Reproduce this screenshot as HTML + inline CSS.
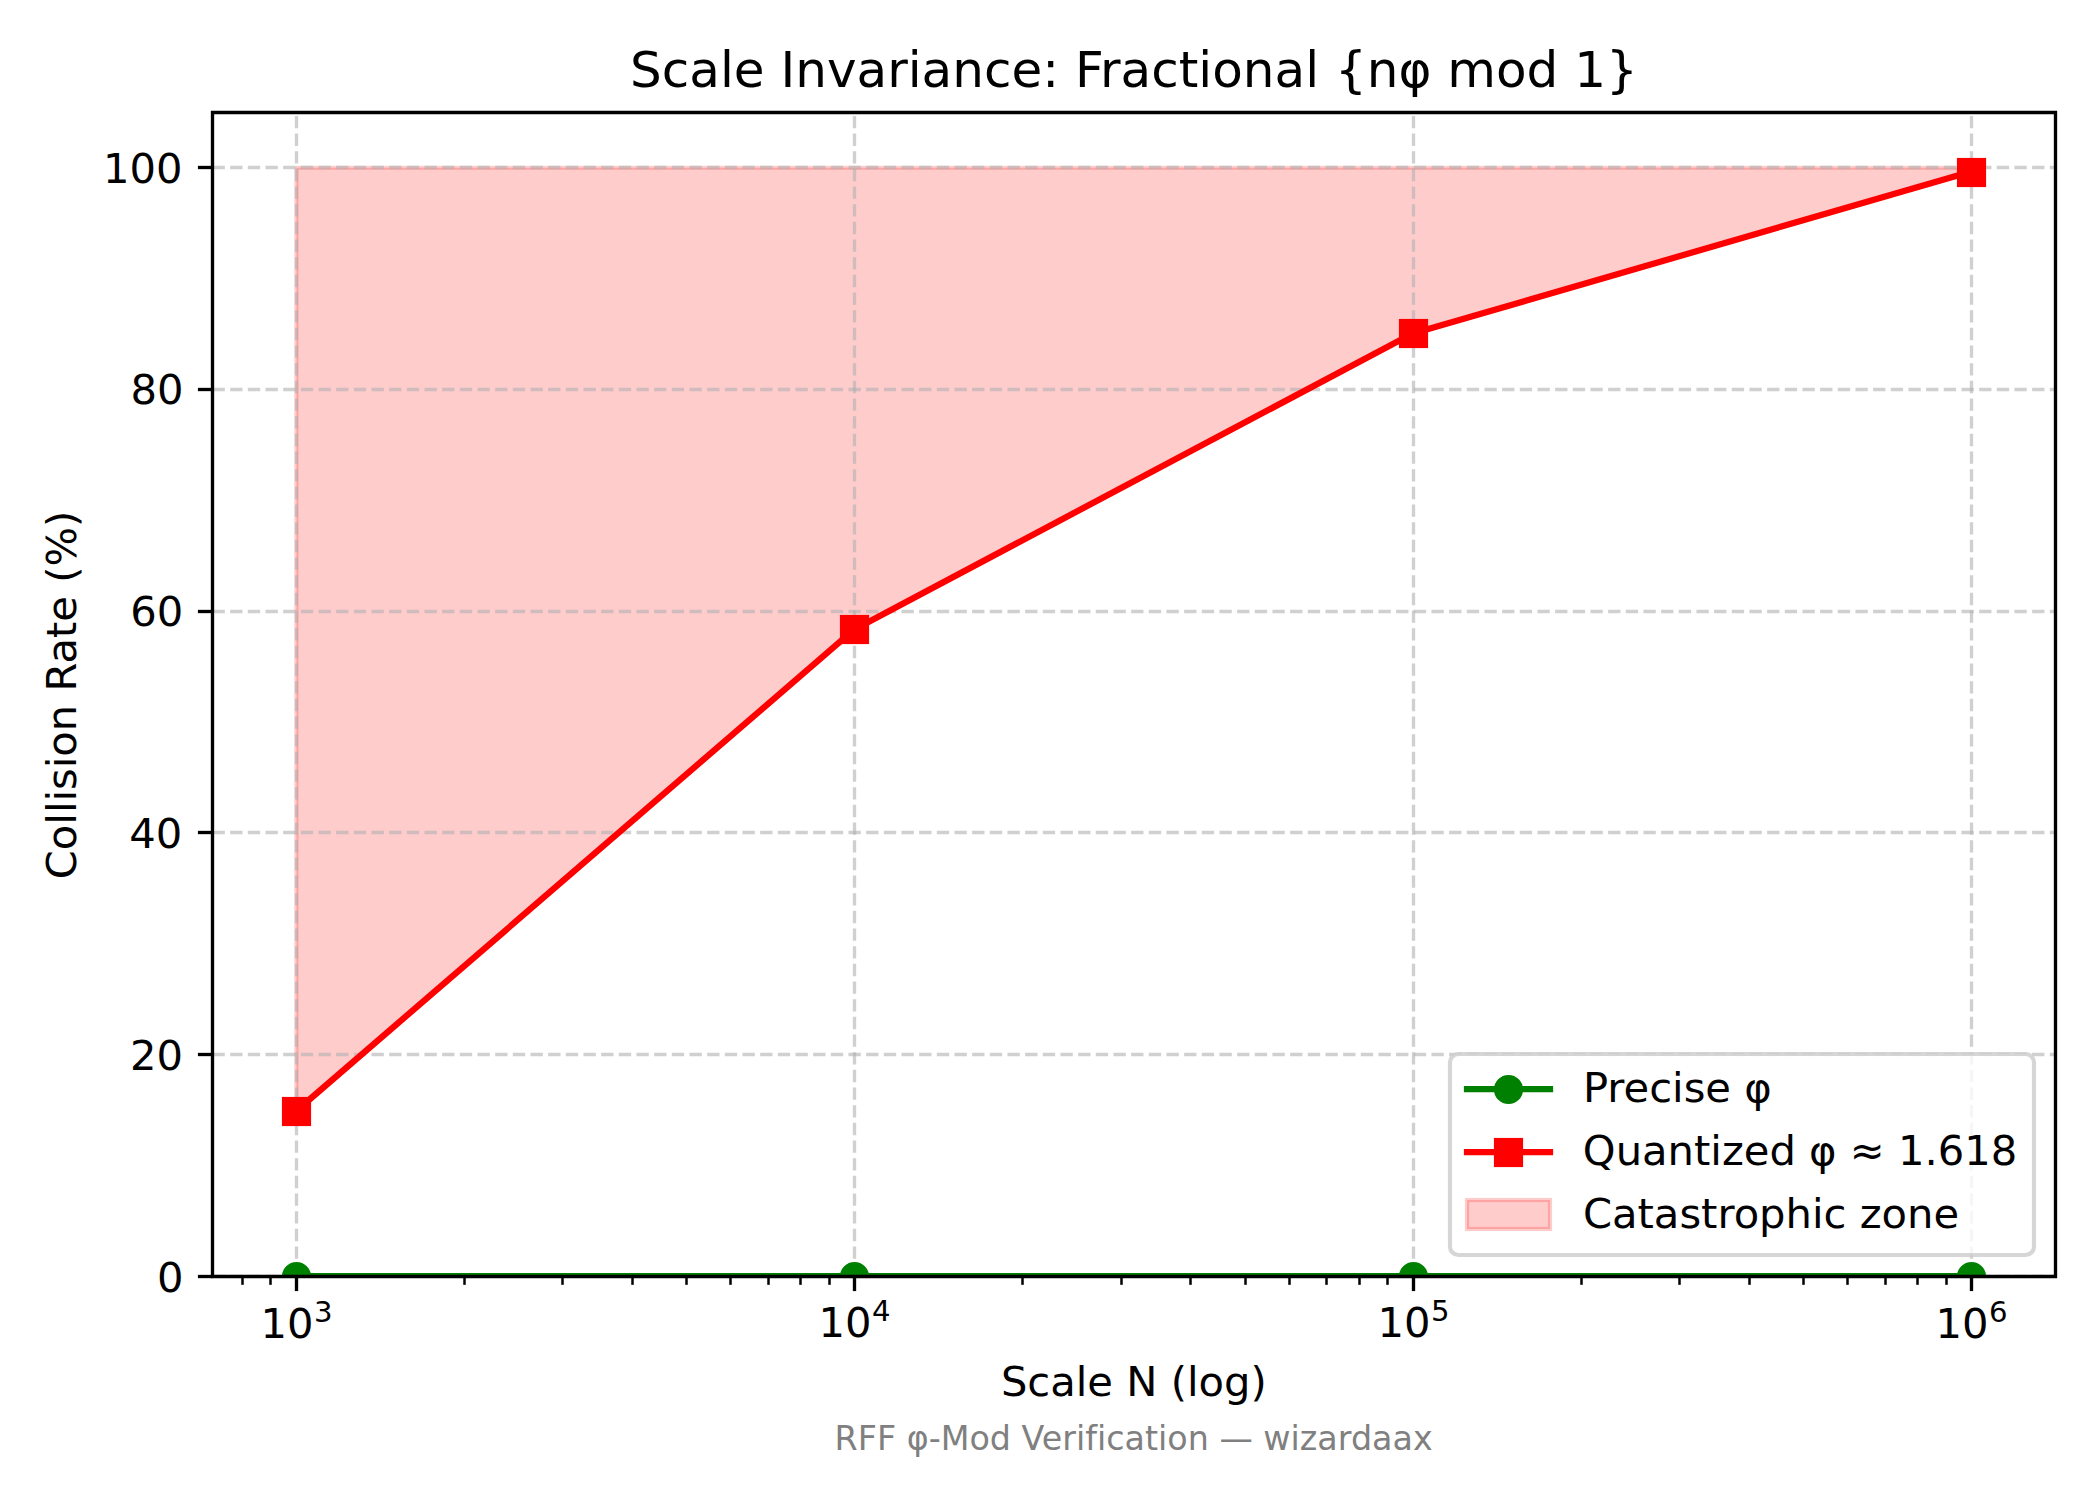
<!DOCTYPE html>
<html lang="en"><head><meta charset="utf-8"><title>Scale Invariance: Fractional {nφ mod 1}</title>
<style>
html,body{margin:0;padding:0;background:#fff}
body{width:2100px;height:1500px;overflow:hidden}
svg{display:block}
text{font-family:"DejaVu Sans","Liberation Sans",sans-serif;fill:#000;font-kerning:normal;font-variant-ligatures:none}
.t10{font-size:41.667px}.t12{font-size:50px}.t8{font-size:33.333px}.t7{font-size:29.167px}
.grid{fill:none;stroke:#b0b0b0;stroke-opacity:.6;stroke-width:3.333;stroke-dasharray:12.333 5.333}
.spine{fill:none;stroke:#000;stroke-width:3.333;stroke-linecap:square}
.tick{stroke:#000;stroke-width:3.333}.mtick{stroke:#000;stroke-width:2.5}
.ln{fill:none;stroke-width:6.25;stroke-linecap:square;stroke-linejoin:round}
.g{stroke:#008000}.r{stroke:#f00}
.mk{stroke-width:4.167}
</style></head><body>
<svg width="2100" height="1500" viewBox="0 0 2100 1500" role="img" aria-label="Collision rate versus scale N">
<defs><clipPath id="ax"><rect x="212" y="112" width="1843" height="1164"/></clipPath></defs>
<rect width="2100" height="1500" fill="#fff"/>
<g clip-path="url(#ax)">
<path d="M296.41 167.71 L296.41 1111.72 L854.79 629.9 L1413.18 333.97 L1971.56 172.14 L1971.56 167.71 Z" fill="#f00" fill-opacity=".2" stroke="#f00" stroke-opacity=".2" stroke-width="4.167" stroke-linejoin="round"/>
</g>
<g class="grid" clip-path="url(#ax)">
<path d="M296.5 1276.5 V112.5"/>
<path d="M854.5 1276.5 V112.5"/>
<path d="M1413.5 1276.5 V112.5"/>
<path d="M1971.5 1276.5 V112.5"/>
<path d="M212.5 1276.5 H2055.5"/>
<path d="M212.5 1054.5 H2055.5"/>
<path d="M212.5 832.5 H2055.5"/>
<path d="M212.5 611.5 H2055.5"/>
<path d="M212.5 389.5 H2055.5"/>
<path d="M212.5 167.5 H2055.5"/>
</g>
<g class="tick">
<path d="M296.5 1276.5 v14.58"/>
<path d="M854.5 1276.5 v14.58"/>
<path d="M1413.5 1276.5 v14.58"/>
<path d="M1971.5 1276.5 v14.58"/>
<path d="M212.5 1276.5 h-14.58"/>
<path d="M212.5 1054.5 h-14.58"/>
<path d="M212.5 832.5 h-14.58"/>
<path d="M212.5 611.5 h-14.58"/>
<path d="M212.5 389.5 h-14.58"/>
<path d="M212.5 167.5 h-14.58"/>
</g>
<g class="mtick">
<path d="M242.5 1276.5 v8.33"/>
<path d="M270.5 1276.5 v8.33"/>
<path d="M464.5 1276.5 v8.33"/>
<path d="M562.5 1276.5 v8.33"/>
<path d="M632.5 1276.5 v8.33"/>
<path d="M686.5 1276.5 v8.33"/>
<path d="M730.5 1276.5 v8.33"/>
<path d="M768.5 1276.5 v8.33"/>
<path d="M800.5 1276.5 v8.33"/>
<path d="M829.5 1276.5 v8.33"/>
<path d="M1022.5 1276.5 v8.33"/>
<path d="M1121.5 1276.5 v8.33"/>
<path d="M1190.5 1276.5 v8.33"/>
<path d="M1245.5 1276.5 v8.33"/>
<path d="M1289.5 1276.5 v8.33"/>
<path d="M1326.5 1276.5 v8.33"/>
<path d="M1359.5 1276.5 v8.33"/>
<path d="M1387.5 1276.5 v8.33"/>
<path d="M1581.5 1276.5 v8.33"/>
<path d="M1679.5 1276.5 v8.33"/>
<path d="M1749.5 1276.5 v8.33"/>
<path d="M1803.5 1276.5 v8.33"/>
<path d="M1847.5 1276.5 v8.33"/>
<path d="M1885.5 1276.5 v8.33"/>
<path d="M1917.5 1276.5 v8.33"/>
<path d="M1946.5 1276.5 v8.33"/>
</g>
<g class="t10">
<text x="183.47" y="1291.72" text-anchor="end">0</text>
<text x="182.92" y="1069.7" text-anchor="end">20</text>
<text x="182.39" y="847.65" text-anchor="end">40</text>
<text x="183.18" y="625.51" text-anchor="end">60</text>
<text x="183.63" y="403.63" text-anchor="end">80</text>
<text x="182.48" y="182.58" text-anchor="end">100</text>
<text x="260.47" y="1337.52">10<tspan class="t7" dx="0.4" dy="-15.95">3</tspan></text>
<text x="818.49" y="1336.64">10<tspan class="t7" dx="0.4" dy="-15.95">4</tspan></text>
<text x="1377.51" y="1336.65">10<tspan class="t7" dx="0.4" dy="-15.95">5</tspan></text>
<text x="1935.48" y="1337.53">10<tspan class="t7" dx="0.4" dy="-15.95">6</tspan></text>
</g>
<text class="t10" x="1133.8" y="1395.51" text-anchor="middle">Scale N (log)</text>
<text class="t10" x="75.64" y="695" text-anchor="middle" transform="rotate(-90 75.64 695)">Collision Rate (%)</text>
<g clip-path="url(#ax)">
<path class="ln g" d="M295.92 1276 H1971.07"/>
<g class="mk g" fill="#008000">
<circle cx="296.5" cy="1276.5" r="12.5"/>
<circle cx="854.5" cy="1276.5" r="12.5"/>
<circle cx="1413.5" cy="1276.5" r="12.5"/>
<circle cx="1971.5" cy="1276.5" r="12.5"/>
</g>
<path class="ln r" d="M295.92 1111.23 L854.3 629.41 L1412.69 333.48 L1971.07 171.65"/>
<g fill="#f00">
<rect x="281.92" y="1096.92" width="29.17" height="29.17"/>
<rect x="839.92" y="614.92" width="29.17" height="29.17"/>
<rect x="1398.92" y="318.92" width="29.17" height="29.17"/>
<rect x="1956.92" y="157.92" width="29.17" height="29.17"/>
</g>
</g>
<path class="spine" d="M212.5 1276.5 V112.5 H2055.5 V1276.5 Z" stroke-linejoin="miter"/>
<text class="t8" x="1133.61" y="1449.59" text-anchor="middle" style="fill:#808080">RFF φ-Mod Verification — wizardaax</text>
<text class="t12" x="1133.98" y="86.5" text-anchor="middle">Scale Invariance: Fractional {nφ mod 1}</text>
<g>
<rect x="1450" y="1054" width="584" height="201" rx="8.33" fill="#fff" fill-opacity=".8" stroke="#ccc" stroke-opacity=".8" stroke-width="4.167"/>
<path class="ln g" d="M1467 1089 H1550"/>
<circle class="mk g" fill="#008000" cx="1508.5" cy="1089.5" r="12.5"/>
<path class="ln r" d="M1467 1152 H1550"/>
<rect fill="#f00" x="1493.92" y="1137.92" width="29.17" height="29.17"/>
<rect x="1467" y="1200" width="83" height="29" fill="#f00" fill-opacity=".2" stroke="#f00" stroke-opacity=".2" stroke-width="4.167"/>
<g class="t10">
<text x="1582.94" y="1101.71">Precise φ</text>
<text x="1582.86" y="1164.53">Quantized φ ≈ 1.618</text>
<text x="1582.92" y="1227.74">Catastrophic zone</text>
</g></g>
</svg>
</body></html>
